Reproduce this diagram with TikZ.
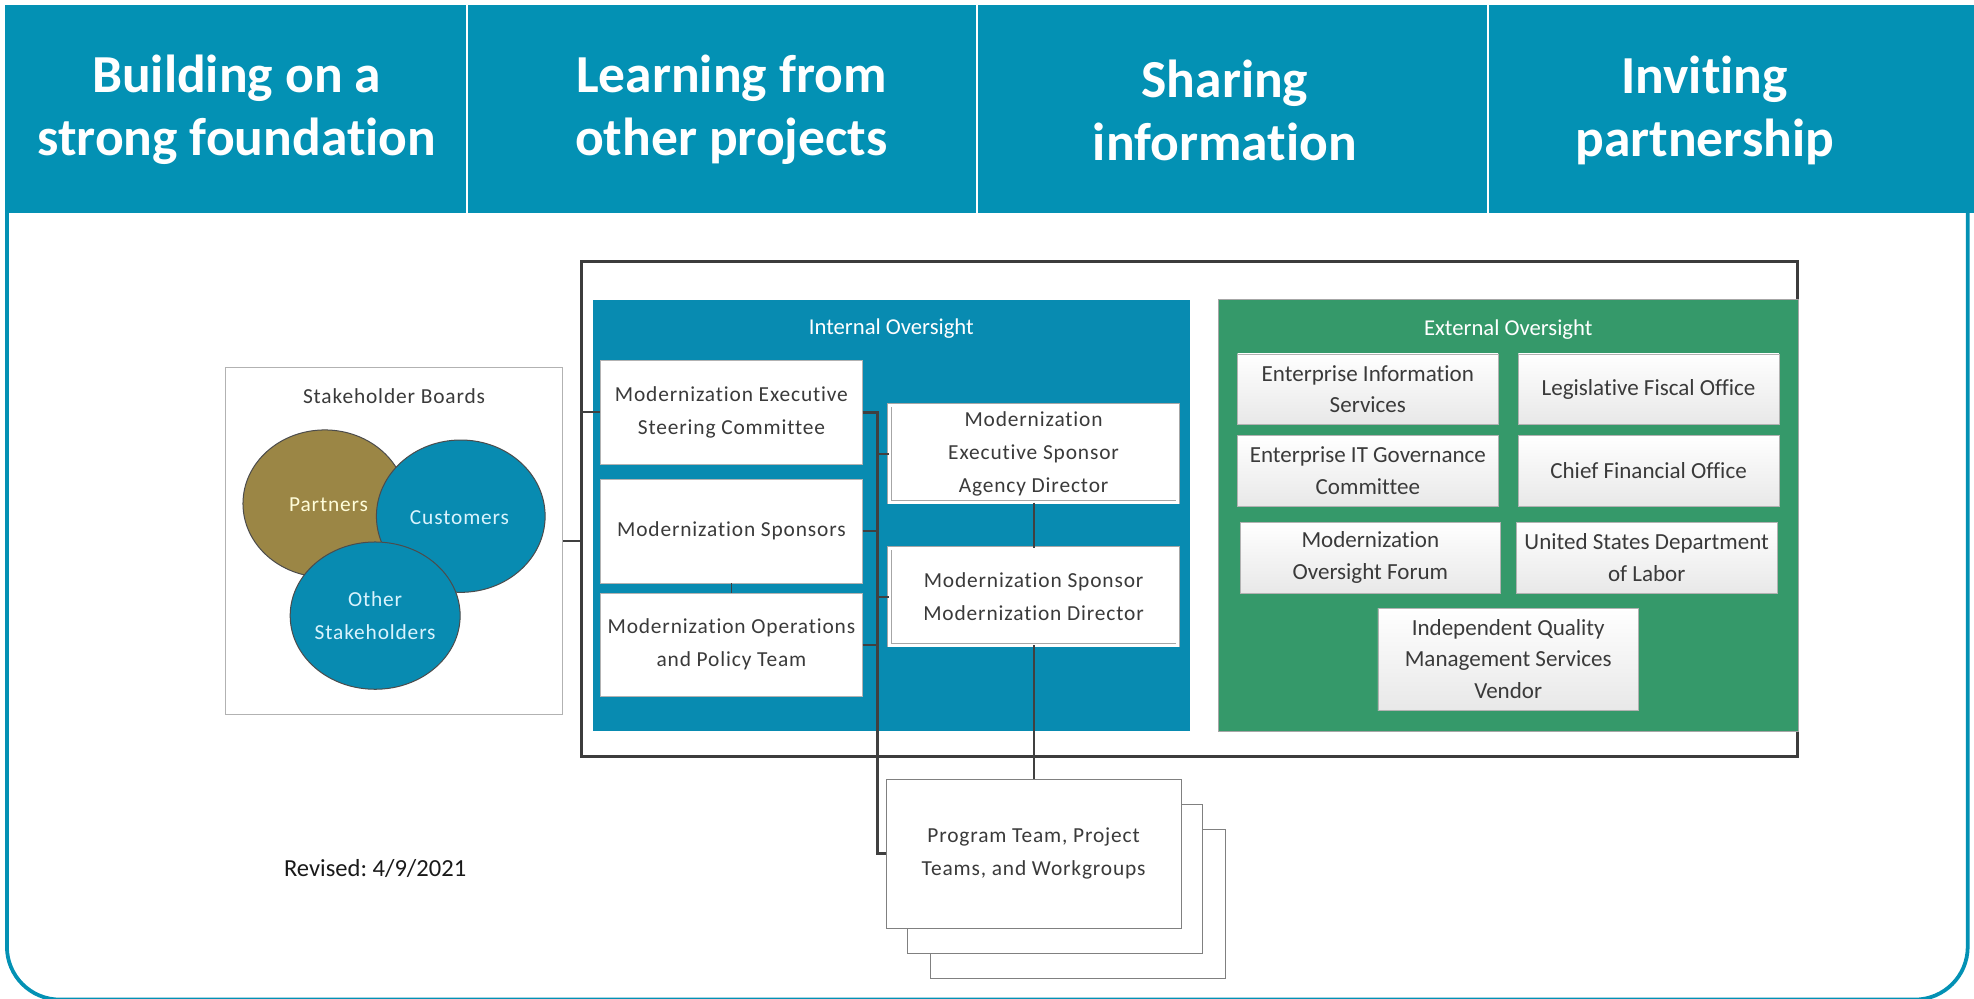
\documentclass[tikz,border=0pt]{standalone}
\usepackage{fontspec}
\setmainfont{Carlito}[Ligatures=NoCommon]
\usepackage{tikz}
\usetikzlibrary{shapes, positioning}
\usetikzlibrary{calc}
\definecolor{hdteal}{HTML}{0391B4}
\definecolor{inteal}{HTML}{088BB1}
\definecolor{exgreen}{HTML}{35996A}
\definecolor{ptolive}{HTML}{9B8645}
\definecolor{boxtext}{HTML}{3A3A3A}
\definecolor{framegray}{HTML}{3C3C3C}
\frenchspacing

\begin{document}
\begin{tikzpicture}[x=1pt, y=-1pt]
	\tikzset{
		hdtext/.style={text=white, align=center, font=\fontsize{42.5}{50}\selectfont\bfseries},
		intbox/.style={draw=gray!60, fill=white, align=center, text=boxtext, minimum width=208, minimum height=82, inner sep=2pt, font=\fontsize{17}{26}\selectfont\addfontfeature{LetterSpace=4}},
		sponbox/.style={intbox, minimum width=229, minimum height=77, double=white, double distance=2.5pt, draw=gray!70},
		extbox/.style={draw=gray!60, top color=white, bottom color=gray!18, align=center, text=boxtext, minimum width=207, minimum height=56, inner sep=2pt, font=\fontsize{18.3}{25}\selectfont},
		circ/.style={ellipse, draw=black!70, line width=0.8pt},
		circtext/.style={align=center, font=\fontsize{17}{26}\selectfont\addfontfeature{LetterSpace=4}},
		conn/.style={draw=black!75, line width=1.5pt}
	}
	\useasboundingbox (0,0) rectangle (1568,793);
	% page border and header band
	\draw[hdteal, line width=3, rounded corners=42] (5.5,150) -- (5.5,794) -- (1563,794) -- (1563,150);
	\fill[hdteal] (4,4) rectangle (1568,169);
	\foreach \x in {371, 776, 1182}
		\draw[white, line width=2] (\x,4) -- (\x,169);
	\node[hdtext] (hd1) at (188,87) {Building on a\\strong foundation};
	\node[hdtext] (hd2) at (581,87) {Learning from\\other projects};
	\node[hdtext] (hd3) at (973,88) {Sharing\\information};
	\node[hdtext] (hd4) at (1354,88) {Inviting\\partnership};

	% stakeholders
	\node[draw=gray!60, fill=white, minimum width=268, minimum height=275] (stake) at (313,429.5) {};
	\node[circtext, text=boxtext] (staketitle) at (313,315) {Stakeholder Boards};
	\node[circ, fill=ptolive, minimum width=130, minimum height=117] (partners) at (258,400) {};
	\node[circ, fill=inteal, minimum width=134, minimum height=121] (customers) at (366,410) {};
	\node[circ, fill=inteal, minimum width=135, minimum height=117] (others) at (298,489) {};
	\node[circtext, text=white!85!yellow] (partnerstxt) at (261,401) {Partners};
	\node[circtext, text=white!85!cyan] (customerstxt) at (365,411) {Customers};
	\node[circtext, text=white!85!cyan] (otherstxt) at (298,489) {Other\\Stakeholders};

	% oversight frame
	\node[draw=framegray, line width=2.5, minimum width=966, minimum height=393] (frame) at (945,404.5) {};
	\node[fill=inteal, minimum width=474, minimum height=343] (intov) at (708,409.5) {};
	\node[fill=exgreen, draw=gray!70, minimum width=460, minimum height=343] (extov) at (1198,409.5) {};
	\node[circtext, text=white, font=\fontsize{18}{26}\selectfont] (inttitle) at (708,261) {Internal Oversight};
	\node[circtext, text=white, font=\fontsize{18}{26}\selectfont] (exttitle) at (1198,262) {External Oversight};

	\node[intbox] (mesc) at (581,327.5) {Modernization Executive\\Steering Committee};
	\node[intbox] (msp) at (581,422) {Modernization Sponsors};
	\node[intbox] (mopt) at (581,512) {Modernization Operations\\and Policy Team};
	\node[sponbox] (mexec) at (821,360.5) {Modernization\\Executive Sponsor\\Agency Director};
	\node[sponbox] (mdir) at (821,474) {Modernization Sponsor\\Modernization Director};

	\node[extbox] (eis) at (1086.5,309) {Enterprise Information\\Services};
	\node[extbox] (lfo) at (1309.5,309) {Legislative Fiscal Office};
	\node[extbox] (eitg) at (1086.5,374) {Enterprise IT Governance\\Committee};
	\node[extbox] (cfo) at (1309.5,374) {Chief Financial Office};
	\node[extbox] (mof) at (1088.5,443) {Modernization\\Oversight Forum};
	\node[extbox] (usdl) at (1308,443) {United States Department\\of Labor};
	\node[extbox, minimum height=81] (iqms) at (1198,523.5) {Independent Quality\\Management Services\\Vendor};

	% program teams
	\node[intbox, draw=gray, minimum width=234, minimum height=118] (prog3) at (856,718) {};
	\node[intbox, draw=gray, minimum width=234, minimum height=118] (prog2) at (838,698) {};
	\node[intbox, draw=gray, minimum width=234, minimum height=118] (prog) at (821,678) {Program Team, Project\\Teams, and Workgroups};

	% connectors
	\coordinate (bus) at (697,0);
	\draw[conn] (stake.east) -- (stake.east -| frame.west);
	\draw[conn] (mesc.west -| frame.west) -- (mesc.west);
	\draw[conn, line width=2] (mesc.east) -- (mesc.east -| bus) -- (bus |- prog.west) -- (prog.west);
	\draw[conn] (msp.east) -- (msp.east -| bus);
	\draw[conn] (mopt.east) -- (mopt.east -| bus);
	\draw[conn] (mexec.west -| bus) -- (mexec.west);
	\draw[conn] (mdir.west -| bus) -- (mdir.west);
	\draw[conn] (msp.south) -- (mopt.north);
	\draw[conn] (mexec.south) -- (mdir.north);
	\draw[conn] (mdir.south) -- (prog.north);

	\node[font=\fontsize{19.5}{24}\selectfont, text=black!90] (revised) at (298,690) {Revised: 4/9/2021};
\end{tikzpicture}
\end{document}
